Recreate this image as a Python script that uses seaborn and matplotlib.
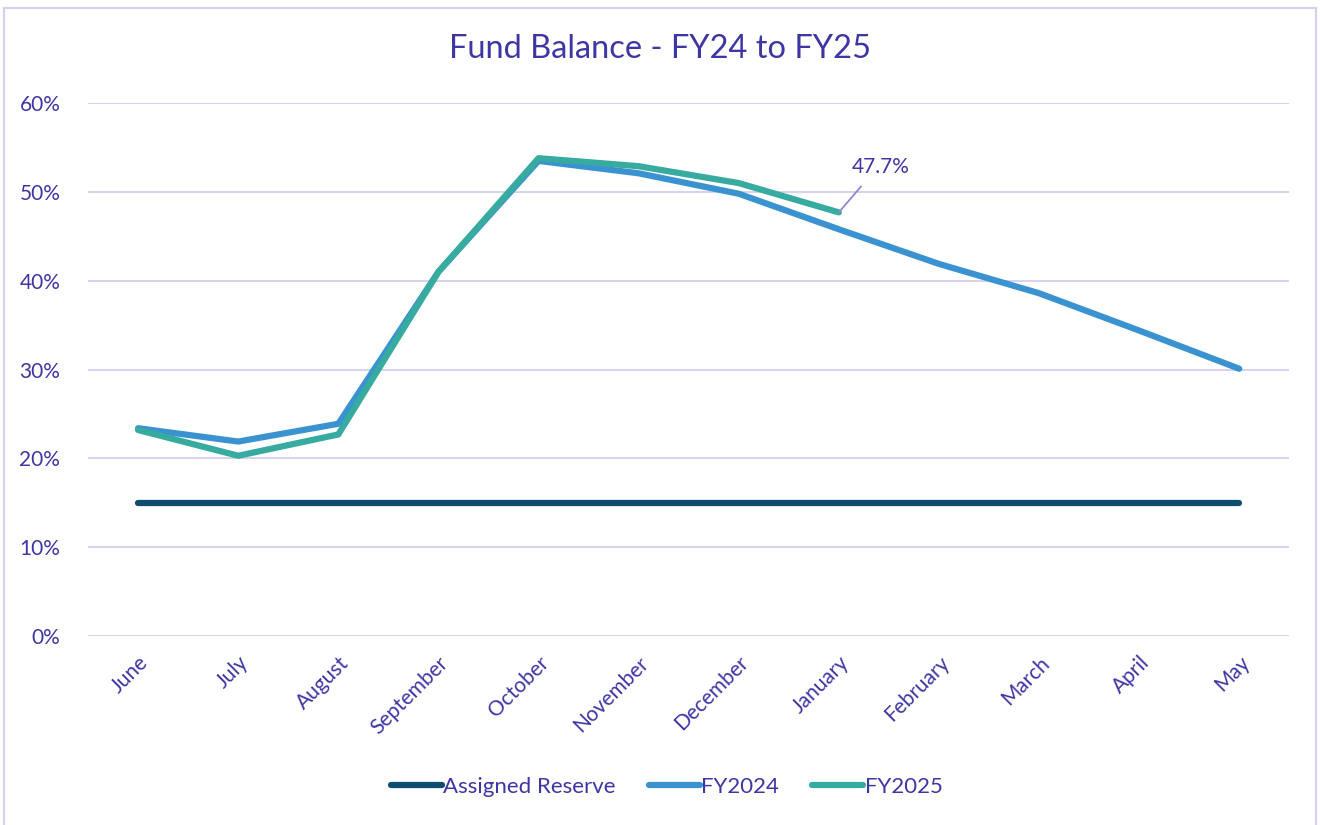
import matplotlib
matplotlib.use("Agg")
import matplotlib.pyplot as plt
import numpy as np
import pandas as pd
import seaborn as sns
from matplotlib.lines import Line2D
from matplotlib.patches import Rectangle
from matplotlib.ticker import PercentFormatter

MONTHS = ["June", "July", "August", "September", "October", "November",
          "December", "January", "February", "March", "April", "May"]
ASSIGNED_RESERVE = [0.15] * 12
FY2024 = [0.234, 0.219, 0.239, 0.410, 0.535, 0.521, 0.498, 0.458, 0.419, 0.386, 0.344, 0.301]
FY2025 = [0.232, 0.203, 0.227, 0.410, 0.538, 0.529, 0.510, 0.477]
SERIES = ["Assigned Reserve", "FY2024", "FY2025"]
COLORS = {"Assigned Reserve": "#0E4D6F", "FY2024": "#3A93D0", "FY2025": "#37AB9F"}
TEXT = "#3D36A3"
GRID = "#D3CFEE"

frames = []
for name, vals in zip(SERIES, [ASSIGNED_RESERVE, FY2024, FY2025]):
    frames.append(pd.DataFrame({"month": MONTHS[:len(vals)], "pos": np.arange(len(vals)),
                                "value": vals, "series": name}))
df = pd.concat(frames, ignore_index=True)

sns.set_theme(style="white")
plt.rcParams["font.family"] = ["Lato", "DejaVu Sans"]

fig = plt.figure(figsize=(13.2, 8.25), dpi=100)
ax = fig.add_axes([0.0667, 0.229, 0.910, 0.646])

sns.lineplot(data=df, x="pos", y="value", hue="series", palette=COLORS,
             hue_order=SERIES, sort=False, linewidth=4.5, legend=False, ax=ax,
             solid_capstyle="round", solid_joinstyle="round")

ax.set_xlim(-0.5, 11.5)
ax.set_ylim(0, 0.6)
ax.set_yticks(np.arange(0, 0.61, 0.1))
ax.yaxis.set_major_formatter(PercentFormatter(1.0, decimals=0))
ax.set_xticks(np.arange(len(MONTHS)))
ax.set_xticklabels(MONTHS, rotation=45, ha="right", va="top", rotation_mode="anchor")
ax.tick_params(axis="both", colors=TEXT, labelsize=15, length=0)
ax.tick_params(axis="x", pad=12)
ax.tick_params(axis="y", pad=20)
ax.grid(axis="y", color=GRID, linewidth=1.3)
ax.set_axisbelow(True)
for s in ax.spines.values():
    s.set_visible(False)
ax.set_xlabel("")
ax.set_ylabel("")

ax.annotate("47.7%", xy=(7, FY2025[-1]), xytext=(7.42, 0.517), ha="center", va="bottom",
            color=TEXT, fontsize=15,
            arrowprops=dict(arrowstyle="-", color="#8C86DA", lw=1.3, shrinkA=6, shrinkB=0,
                            relpos=(0.3, 0.0)))

fig.text(0.5, 0.941, "Fund Balance - FY24 to FY25", ha="center", va="center",
         color=TEXT, fontsize=23.5)

handles = [Line2D([0], [0], color=COLORS[s], lw=4.5, solid_capstyle="round") for s in SERIES]
leg = fig.legend(handles, SERIES, loc="center", bbox_to_anchor=(0.505, 0.046), ncol=3,
                 frameon=False, fontsize=16, handlelength=2.3, handletextpad=0.05,
                 columnspacing=1.5)
for t in leg.get_texts():
    t.set_color(TEXT)

fig.add_artist(Rectangle((0.003, -0.01), 0.994, 1.0, transform=fig.transFigure,
                         fill=False, edgecolor=GRID, linewidth=1.5))

fig.savefig("out.png", dpi=100)
